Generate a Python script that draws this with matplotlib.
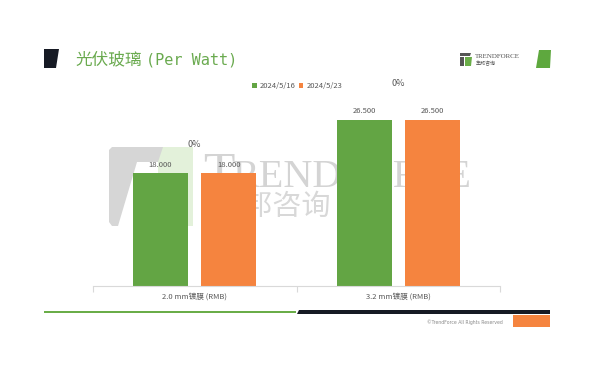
import matplotlib
matplotlib.use("Agg")
import matplotlib.pyplot as plt
from matplotlib.patches import Polygon, Rectangle

W, H = 589, 376
DPI = 100

categories = ["2.0 mm镀膜 (RMB)", "3.2 mm镀膜 (RMB)"]
series_names = ["2024/5/16", "2024/5/23"]
values_0516 = [18.0, 26.5]
values_0523 = [18.0, 26.5]
changes = ["0%", "0%"]

GREEN = "#63a544"
ORANGE = "#f5843f"
CJK = ["Noto Sans CJK SC", "DejaVu Sans"]

fig = plt.figure(figsize=(W / DPI, H / DPI), dpi=DPI)
fig.patch.set_facecolor("white")


def fx(x):
    return x / W


def fy(y):
    return 1 - y / H


def poly(pts, **kw):
    p = Polygon([(fx(x), fy(y)) for x, y in pts], closed=True,
                transform=fig.transFigure, **kw)
    fig.add_artist(p)
    return p


def ftext(x, y, s, **kw):
    return fig.text(fx(x), fy(y), s, **kw)


# --- header ---
poly([(44, 49), (59, 49), (56, 68), (44, 68)], color="#161a24", lw=0)
poly([(539, 50), (551, 50), (550, 68), (536, 68)], color="#5ea83e", lw=0)
ftext(75, 60, "光伏玻璃", fontsize=12, color="#6aaa4f", family=CJK,
      va="center", ha="left")
ftext(146, 60, "(Per Watt)", fontsize=11, color="#6aaa4f",
      family="DejaVu Sans Mono", va="center", ha="left")

# small logo top right
poly([(460, 53), (471, 53), (470, 56), (460, 56)], color="#555555", lw=0)
poly([(460, 57), (464, 57), (464, 66), (460, 66)], color="#555555", lw=0)
poly([(465, 57), (472, 57), (471, 66), (465, 66)], color="#6aad48", lw=0)
ftext(475, 56, "TRENDFORCE", fontsize=5, color="#555555",
      family="Liberation Serif", va="center", ha="left")
ftext(476, 63.5, "集邦咨询", fontsize=3.6, color="#555555",
      family=CJK, va="center", ha="left")

# --- watermark behind the bars ---
poly([(158, 147), (193, 147), (193, 226), (158, 226)],
     color="#e3f1da", lw=0, zorder=0.5)
poly([(112, 147), (163, 147), (158, 162), (109, 162), (109, 150)],
     color="#d6d6d6", lw=0, zorder=0.6)
poly([(109, 162), (137, 162), (118, 226), (112, 226), (109, 222)],
     color="#d6d6d6", lw=0, zorder=0.6)
ftext(203, 187, "T", fontsize=37, color="#d4d4d4", family="Liberation Serif",
      va="baseline", ha="left", zorder=0.5)
ftext(233, 187, "RENDFORCE", fontsize=29, color="#d4d4d4", family="Liberation Serif",
      va="baseline", ha="left", zorder=0.5)
ftext(214, 207, "集邦咨询", fontsize=21, color="#d8d8d8", family=CJK,
      va="center", ha="left", zorder=0.5)

# --- main chart ---
ax_left, ax_right = 93, 500
ax_bottom = 286
ymax = 30
px_per_unit = (286 - 173) / 18.0
ax_top = ax_bottom - ymax * px_per_unit
ax = fig.add_axes([fx(ax_left), fy(ax_bottom), (ax_right - ax_left) / W,
                   (ax_bottom - ax_top) / H])
ax.set_zorder(2)
ax.patch.set_alpha(0)

x = list(range(len(categories)))
bw = 0.27
off = 0.168
b1 = ax.bar([i - off for i in x], values_0516, width=bw, color=GREEN,
            label=series_names[0], zorder=2)
b2 = ax.bar([i + off for i in x], values_0523, width=bw, color=ORANGE,
            label=series_names[1], zorder=2)
ax.set_xlim(-0.5, len(categories) - 0.5)
ax.set_ylim(0, ymax)

for bars in (b1, b2):
    for rect, v in zip(bars, bars.datavalues):
        ax.annotate(f"{v:.3f}", (rect.get_x() + rect.get_width() / 2, v),
                    xytext=(0, 3), textcoords="offset points", ha="center",
                    va="bottom", fontsize=5.5, color="#595959", family=CJK,
                    annotation_clip=False)

# change labels sit above each group, scaled with the group's height
for i, (c, a, b) in enumerate(zip(changes, values_0516, values_0523)):
    top = max(a, b)
    ax.text(i, top * 1.153 + 1.75, c, ha="center", va="center",
            fontsize=6.5, color="#595959", family=CJK, clip_on=False)

for s in ("top", "right", "left"):
    ax.spines[s].set_visible(False)
ax.spines["bottom"].set_color("#d9d9d9")
ax.spines["bottom"].set_linewidth(0.8)
ax.set_yticks([])
ax.set_xticks([-0.5, 0.5, 1.5], minor=False)
ax.set_xticklabels([])
ax.tick_params(axis="x", which="major", length=4, color="#d9d9d9", width=0.8)
ax.set_xticks(x, minor=True)
ax.set_xticklabels(categories, minor=True, fontsize=5.5, color="#595959",
                   family=CJK)
ax.tick_params(axis="x", which="minor", length=0, pad=5)

leg = fig.legend(handles=[b1, b2], labels=series_names, loc="center",
                 bbox_to_anchor=(fx(297), fy(86)), ncol=2, frameon=False,
                 handlelength=0.6, handleheight=0.6,
                 handletextpad=0.4, columnspacing=0.4,
                 prop={"family": CJK, "size": 5.5})
for t in leg.get_texts():
    t.set_color("#595959")

# --- footer ---
fig.add_artist(Rectangle((fx(44), fy(313)), fx(296) - fx(44), 2 / H,
                         transform=fig.transFigure, color="#6aad48", lw=0))
poly([(299, 310), (550, 310), (550, 314), (297, 314)], color="#161a24", lw=0)
ftext(503, 322, "©TrendForce All Rights Reserved", fontsize=3.3,
      color="#8a8a8a", ha="right", va="center")
fig.add_artist(Rectangle((fx(513), fy(327)), fx(550) - fx(513), 12 / H,
                         transform=fig.transFigure, color="#f5843f", lw=0))

fig.savefig("out.png", dpi=DPI)
